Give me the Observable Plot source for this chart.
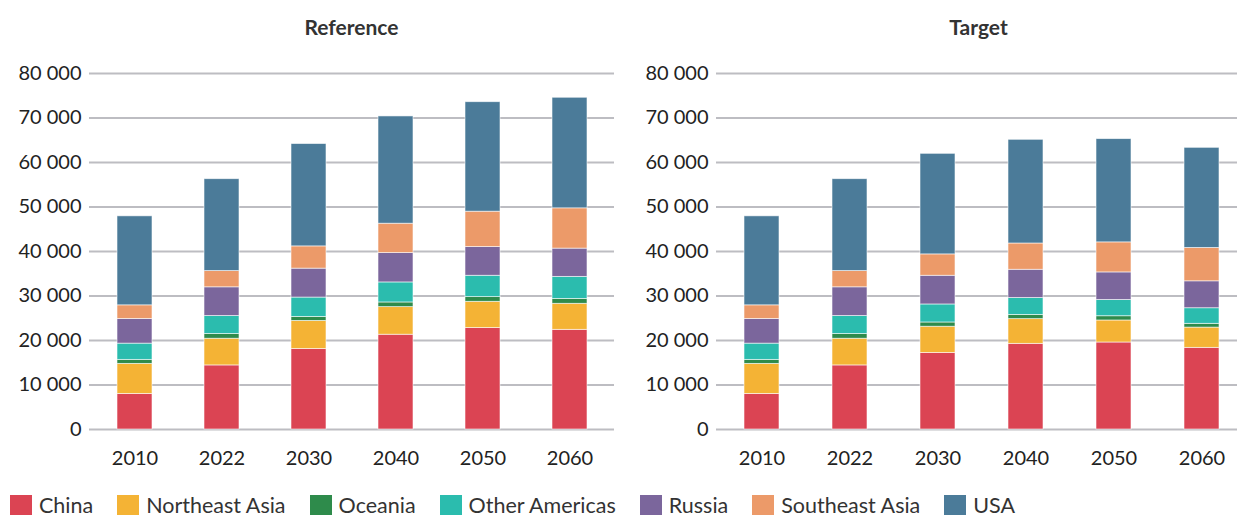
<!DOCTYPE html>
<html>
<head>
<meta charset="utf-8">
<script src="https://cdn.jsdelivr.net/npm/d3@7"></script>
<script src="https://cdn.jsdelivr.net/npm/@observablehq/plot@0.6"></script>
<style>
  html, body { margin: 0; padding: 0; background: #fff; }
  body { width: 1237px; height: 516px; overflow: hidden; position: relative; font-family: Lato, sans-serif; }
  .panel { position: absolute; top: 0; overflow: visible; }
  .panel svg { max-width: none !important; }
  .title { position: absolute; top: 14px; height: 26px; line-height: 26px; font-size: 21px; font-weight: 700; color: #333; text-align: center; }
  #legend { position: absolute; left: 10px; top: 495px; display: flex; align-items: center; gap: 24px; font-size: 21.5px; color: #333; white-space: nowrap; }
  .item { display: flex; align-items: center; height: 20px; }
  .sw { width: 22px; height: 20px; margin-right: 7px; flex: none; }
</style>
</head>
<body>
<div id="left" class="panel" style="left:0px;width:614px"></div>
<div id="right" class="panel" style="left:627px;width:621px"></div>
<div class="title" style="left:89px;width:525px">Reference</div>
<div class="title" style="left:716px;width:525px">Target</div>
<div id="legend"></div>
<script>
const years = ["2010", "2022", "2030", "2040", "2050", "2060"];
const regions = ["China", "Northeast Asia", "Oceania", "Other Americas", "Russia", "Southeast Asia", "USA"];
const colors = ["#db4453", "#f4b335", "#2e8b4b", "#2bbcae", "#7b669c", "#ec9a69", "#4b7b99"];
const yTicks = [0, 10000, 20000, 30000, 40000, 50000, 60000, 70000, 80000];

// Reference scenario
const refChina = [8000, 14400, 18100, 21300, 22800, 22400];
const refNortheastAsia = [6750, 6000, 6300, 6200, 5900, 5850];
const refOceania = [900, 1050, 900, 1050, 1050, 1100];
const refOtherAmericas = [3650, 4050, 4350, 4500, 4800, 4950];
const refRussia = [5550, 6450, 6500, 6600, 6450, 6350];
const refSoutheastAsia = [3050, 3650, 5000, 6600, 7950, 9050];
const refUSA = [20000, 20650, 23000, 24100, 24600, 24850];

// Target scenario
const tgtChina = [8000, 14400, 17200, 19250, 19550, 18350];
const tgtNortheastAsia = [6750, 6000, 5900, 5550, 4950, 4550];
const tgtOceania = [900, 1050, 950, 950, 950, 850];
const tgtOtherAmericas = [3650, 4050, 4050, 3800, 3650, 3500];
const tgtRussia = [5550, 6450, 6450, 6350, 6200, 6050];
const tgtSoutheastAsia = [3050, 3650, 4800, 5900, 6750, 7500];
const tgtUSA = [20000, 20650, 22600, 23300, 23200, 22500];

const refSeries = [refChina, refNortheastAsia, refOceania, refOtherAmericas, refRussia, refSoutheastAsia, refUSA];
const tgtSeries = [tgtChina, tgtNortheastAsia, tgtOceania, tgtOtherAmericas, tgtRussia, tgtSoutheastAsia, tgtUSA];

function toRows(series) {
  const rows = [];
  years.forEach((year, i) => {
    regions.forEach((region, j) => rows.push({year, region, value: series[j][i]}));
  });
  return rows;
}

const fmt = d => d3.format(",")(d).replace(/,/g, " ");

function chart(rows, width) {
  return Plot.plot({
    width,
    height: 470,
    marginTop: 73,
    marginBottom: 41,
    marginLeft: 89,
    marginRight: 0,
    style: {fontFamily: "Lato, sans-serif", fontSize: "20px", color: "#222", background: "transparent", overflow: "visible", maxWidth: "none"},
    x: {domain: years, paddingInner: 0.6, paddingOuter: 0.3, label: null, tickSize: 0, tickPadding: 21},
    y: {domain: [0, 80000], ticks: yTicks, tickFormat: fmt, label: null, tickSize: 0, tickPadding: 8},
    color: {domain: regions, range: colors},
    marks: [
      Plot.ruleY(yTicks, {stroke: "#bdbdc2", strokeWidth: 2}),
      Plot.barY(rows, {x: "year", y: "value", fill: "region", stroke: "#ffffff", strokeWidth: 0.8, strokeOpacity: 0.7, order: regions})
    ]
  });
}

document.getElementById("left").appendChild(chart(toRows(refSeries), 614));
document.getElementById("right").appendChild(chart(toRows(tgtSeries), 621));

const legend = document.getElementById("legend");
regions.forEach((r, i) => {
  const item = document.createElement("div");
  item.className = "item";
  const sw = document.createElement("div");
  sw.className = "sw";
  sw.style.background = colors[i];
  const label = document.createElement("span");
  label.textContent = r;
  item.appendChild(sw);
  item.appendChild(label);
  legend.appendChild(item);
});
</script>
</body>
</html>
